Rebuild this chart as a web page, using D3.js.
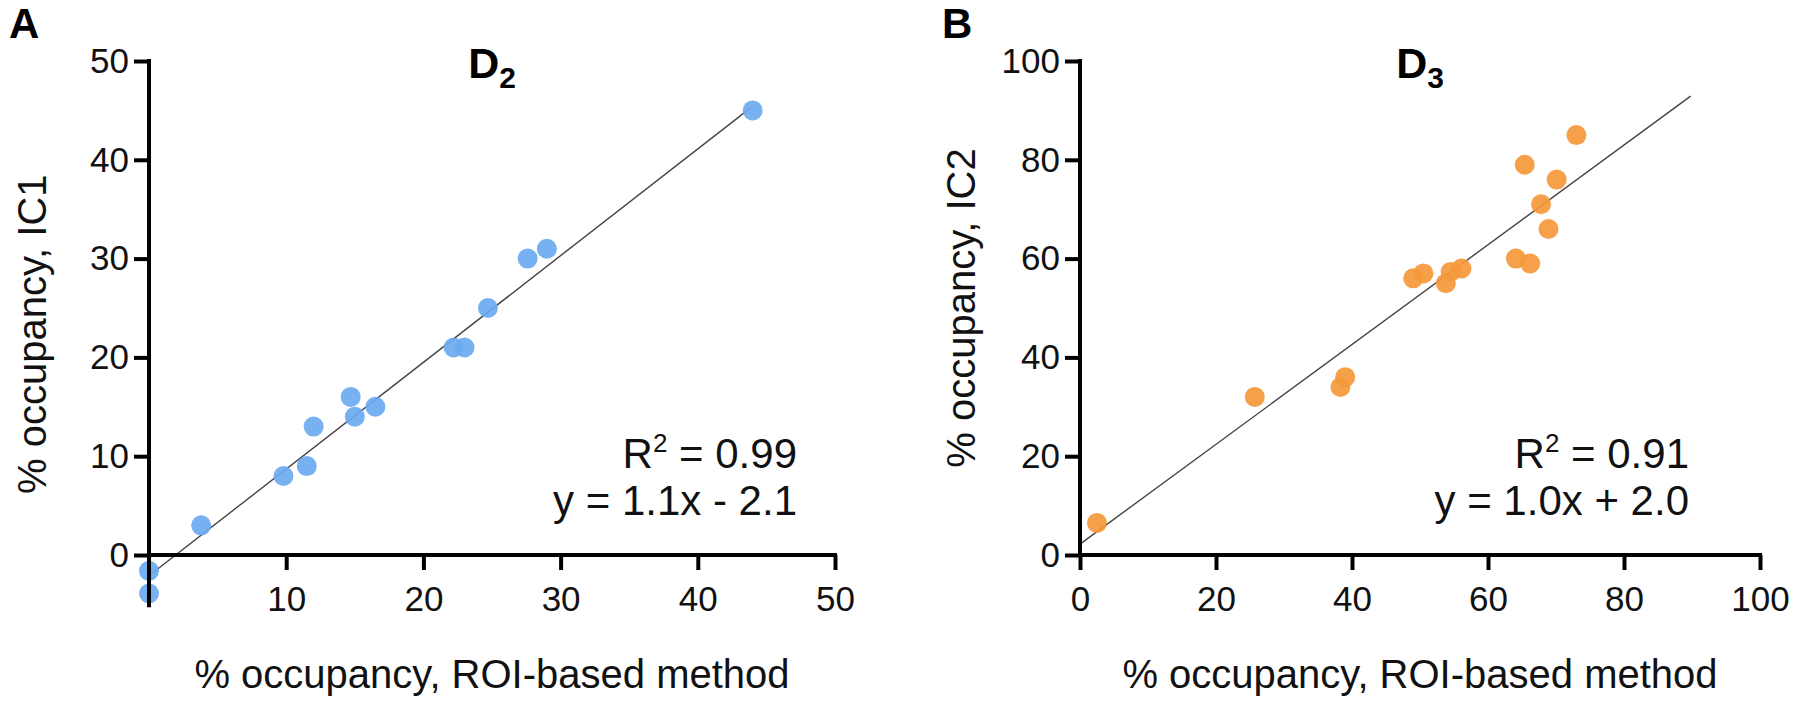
<!DOCTYPE html>
<html><head><meta charset="utf-8">
<script src="https://cdn.jsdelivr.net/npm/d3@7"></script>
<style>html,body{margin:0;padding:0;background:#fff;}svg text{font-family:"Liberation Sans",Arial,sans-serif;}</style>
</head><body>
<svg id="chart" width="1800" height="702"></svg>
<script>
// Panel A (D2)
const d2X = [0, 0, 3.8, 9.8, 11.5, 12, 14.7, 15, 16.5, 22.2, 23.0, 24.7, 27.6, 29, 44];
const d2Y = [-1.6, -3.9, 3, 8, 9, 13, 16, 14, 15, 21, 21, 25, 30, 31, 45];
const d2Fit = {slope: 1.08, intercept: -2.1, xMin: 0, xMax: 43.8};
const d2Ticks = [0, 10, 20, 30, 40, 50];
const d2XTicks = [10, 20, 30, 40, 50];
const d2Text = ["R", "2", " = 0.99", "y = 1.1x - 2.1"];
// Panel B (D3)
const d3X = [2.5, 25.7, 38.3, 39.0, 49.0, 50.5, 53.8, 54.5, 56.1, 64.1, 66.2, 65.4, 67.8, 68.9, 70.1, 73.0];
const d3Y = [6.5, 32, 34, 36, 56, 57, 55, 57.3, 58, 60, 59, 79, 71, 66, 76, 85];
const d3Fit = {slope: 1.01, intercept: 2.2, xMin: 0, xMax: 89.8};
const d3Ticks = [0, 20, 40, 60, 80, 100];
const d3Text = ["R", "2", " = 0.91", "y = 1.0x + 2.0"];
const xLabel = "% occupancy, ROI-based method";

const svg = d3.select("#chart");

function panel(opt) {
  const g = svg.append("g");
  const x = d3.scaleLinear().domain(opt.xDom).range(opt.xRange);
  const y = d3.scaleLinear().domain(opt.yDom).range(opt.yRange);
  // fit line
  g.append("line")
    .attr("x1", x(opt.fit.xMin)).attr("y1", y(opt.fit.slope*opt.fit.xMin + opt.fit.intercept))
    .attr("x2", x(opt.fit.xMax)).attr("y2", y(opt.fit.slope*opt.fit.xMax + opt.fit.intercept))
    .attr("stroke", "#444").attr("stroke-width", 1.4);
  // points
  g.selectAll("circle.pt").data(opt.xs.map((v,i)=>[v, opt.ys[i]])).enter().append("circle")
    .attr("cx", d=>x(d[0])).attr("cy", d=>y(d[1])).attr("r", 10)
    .attr("fill", opt.color).attr("fill-opacity", 0.92);
  // y axis
  const yAx = d3.axisLeft(y).tickValues(opt.yTicks).tickSize(15).tickPadding(5).tickFormat(d3.format("d"));
  const ya = g.append("g").attr("transform", `translate(${x(0)},0)`).call(yAx);
  ya.select(".domain").remove();
  ya.append("line").attr("x1",0).attr("x2",0).attr("y1", y(opt.yDom[1])-2).attr("y2", y(opt.yAxisBottom)).attr("stroke","#000").attr("stroke-width",4);
  // x axis
  const xAx = d3.axisBottom(x).tickValues(opt.xTicks).tickSize(15).tickPadding(16).tickFormat(d3.format("d"));
  const xa = g.append("g").attr("transform", `translate(0,${y(0)})`).call(xAx);
  xa.select(".domain").remove();
  xa.append("line").attr("x1", x(0)-2).attr("x2", x(opt.xDom[1])+2).attr("y1",0).attr("y2",0).attr("stroke","#000").attr("stroke-width",4);
  [ya, xa].forEach(a => {
    a.selectAll(".tick line").attr("stroke","#000").attr("stroke-width",4);
    a.selectAll(".tick text").attr("font-size", 35).attr("fill","#111").attr("font-family", "Liberation Sans, Arial, sans-serif");
  });
  // title
  const t = g.append("text").attr("x", (opt.xRange[0]+opt.xRange[1])/2).attr("y", 78).attr("text-anchor","middle")
    .attr("font-size", 43).attr("font-weight","bold").attr("fill","#000");
  t.append("tspan").text("D");
  t.append("tspan").text(opt.sub).attr("font-size", 30).attr("dy", 10);
  // panel letter
  g.append("text").attr("x", opt.letterX).attr("y", 38).attr("font-size", 42).attr("font-weight","bold").text(opt.letter);
  // axis titles
  g.append("text").attr("x", (opt.xRange[0]+opt.xRange[1])/2).attr("y", 688).attr("text-anchor","middle").attr("font-size", 40).attr("fill","#111").text(xLabel);
  const yMid = (y(opt.yDom[1]) + y(opt.yAxisBottom))/2;
  g.append("text").attr("transform", `translate(${opt.yTitleX},${yMid}) rotate(-90)`).attr("text-anchor","middle")
    .attr("font-size", 40).attr("fill","#111").text(opt.yLabel);
  // stats
  const s = g.append("text").attr("x", opt.statX).attr("y", 468).attr("text-anchor","end").attr("font-size", 42).attr("fill","#111");
  s.append("tspan").text(opt.stat[0]);
  s.append("tspan").text(opt.stat[1]).attr("font-size", 26).attr("dy", -16);
  s.append("tspan").text(opt.stat[2]).attr("dy", 16);
  g.append("text").attr("x", opt.statX).attr("y", 515).attr("text-anchor","end").attr("font-size", 42).attr("fill","#111").text(opt.stat[3]);
}

panel({xDom:[0,50], xRange:[149,835], yDom:[0,50], yRange:[555,61], yAxisBottom:-5.3,
  xs:d2X, ys:d2Y, fit:d2Fit, yTicks:d2Ticks, xTicks:d2XTicks,
  color:"#6caaf0", sub:"2", letter:"A", letterX:9, yTitleX:46,
  yLabel:"% occupancy, IC1", statX:797, stat:d2Text});
panel({xDom:[0,100], xRange:[1080,1760], yDom:[0,100], yRange:[555,61], yAxisBottom:0,
  xs:d3X, ys:d3Y, fit:d3Fit, yTicks:d3Ticks, xTicks:d3Ticks,
  color:"#f5983a", sub:"3", letter:"B", letterX:942, yTitleX:975,
  yLabel:"% occupancy, IC2", statX:1689, stat:d3Text});
</script>
</body></html>
